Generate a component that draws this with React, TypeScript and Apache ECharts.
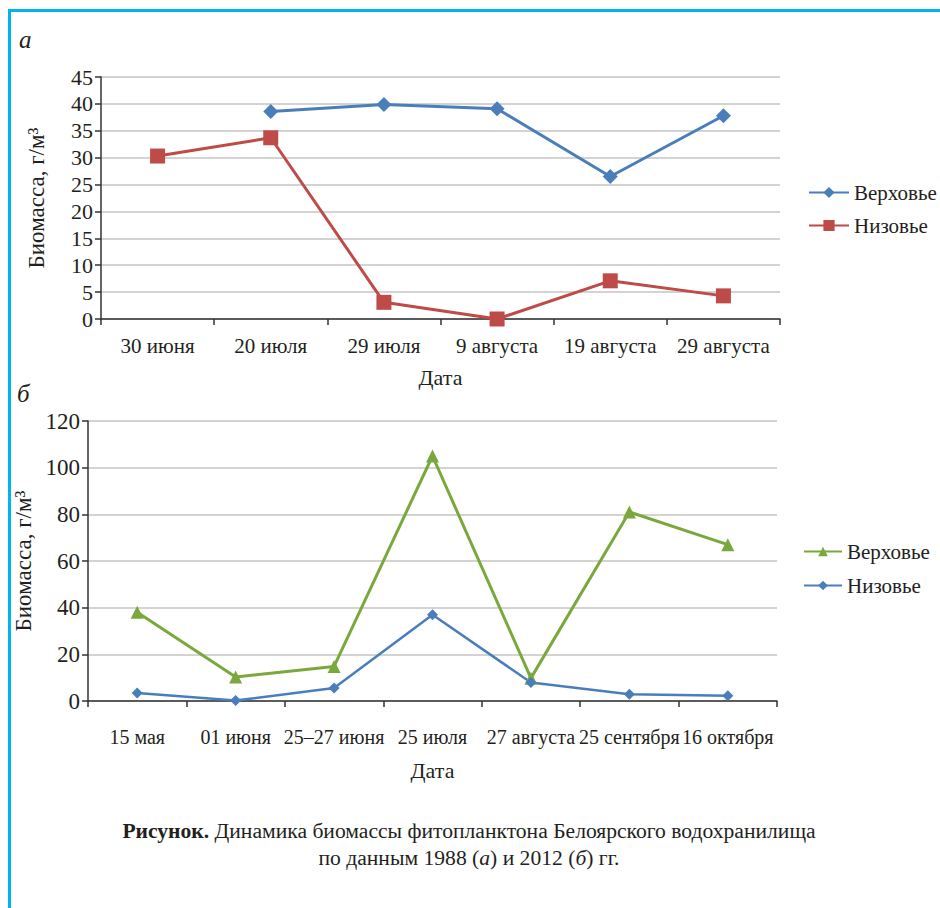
import React, { useEffect, useRef } from "react";
import * as echarts from "echarts";

const catsA = ["30 июня", "20 июля", "29 июля", "9 августа", "19 августа", "29 августа"];
const upperA = [null, 38.6, 39.9, 39.1, 26.5, 37.8];
const lowerA = [30.3, 33.7, 3.1, 0, 7.1, 4.3];

const catsB = ["15 мая", "01 июня", "25–27 июня", "25 июля", "27 августа", "25 сентября", "16 октября"];
const upperB = [38, 10.3, 14.8, 105, 9.8, 81, 67];
const lowerB = [3.4, 0.2, 5.6, 37, 7.9, 2.9, 2.2];

const FONT = "Liberation Serif";
const TXT = "#231f20";
const BLUE = "#4a7ebb";
const RED = "#be4b48";
const GREEN = "#7aa83c";

export default function App() {
  const ref = useRef<HTMLDivElement>(null);
  useEffect(() => {
    const chart = echarts.init(ref.current!, null, { renderer: "svg" });
    const axisCommon = {
      axisLine: { show: true, lineStyle: { color: "#333", width: 1.5 } },
      axisTick: { show: true, length: 6, lineStyle: { color: "#333", width: 1.5 } },
      splitLine: { show: false },
    };
    const yCommon = {
      ...axisCommon,
      type: "value",
      nameLocation: "middle",
      nameRotate: 90,
      nameTextStyle: { fontFamily: FONT, fontSize: 23, color: TXT },
      axisLabel: { fontFamily: FONT, fontSize: 22, color: TXT, margin: 8 },
      splitLine: { show: true, lineStyle: { color: "#c4c4c4", width: 1.5 } },
    };
    chart.setOption({
      animation: false,
      backgroundColor: "#fff",
      textStyle: { fontFamily: FONT },
      grid: [
        { left: 101, right: 160, top: 77, height: 242 },
        { left: 88, right: 163, top: 421, height: 280 },
      ],
      xAxis: [
        {
          ...axisCommon,
          type: "category",
          gridIndex: 0,
          data: catsA,
          name: "Дата",
          nameLocation: "middle",
          nameGap: 47,
          nameTextStyle: { fontFamily: FONT, fontSize: 22, color: TXT },
          axisLabel: { fontFamily: FONT, fontSize: 21, color: TXT, margin: 16, interval: 0 },
        },
        {
          ...axisCommon,
          type: "category",
          gridIndex: 1,
          data: catsB,
          name: "Дата",
          nameLocation: "middle",
          nameGap: 58,
          nameTextStyle: { fontFamily: FONT, fontSize: 22, color: TXT },
          axisLabel: { fontFamily: FONT, fontSize: 20, color: TXT, margin: 26, interval: 0 },
        },
      ],
      yAxis: [
        { ...yCommon, gridIndex: 0, min: 0, max: 45, interval: 5, name: "Биомасса, г/м³", nameGap: 53 },
        {
          ...yCommon,
          gridIndex: 1,
          min: 0,
          max: 120,
          interval: 20,
          name: "Биомасса, г/м³",
          nameGap: 40,
          axisLabel: { fontFamily: FONT, fontSize: 23, color: TXT, margin: 8 },
        },
      ],
      legend: [
        {
          data: ["Верховье", "Низовье"].map((n) => ({ name: n })),
          orient: "vertical",
          left: 803,
          top: 177,
          itemWidth: 40,
          itemHeight: 14,
          itemGap: 12,
          textStyle: { fontFamily: FONT, fontSize: 21, color: TXT },
        },
        {
          data: ["Верховье ", "Низовье "].map((n) => ({ name: n })),
          orient: "vertical",
          left: 798,
          top: 536,
          itemWidth: 38,
          itemHeight: 12,
          itemGap: 13,
          textStyle: { fontFamily: FONT, fontSize: 21, color: TXT },
        },
      ],
      series: [
        {
          name: "Верховье",
          type: "line",
          xAxisIndex: 0,
          yAxisIndex: 0,
          data: upperA,
          symbol: "diamond",
          symbolSize: 15,
          lineStyle: { color: BLUE, width: 3 },
          itemStyle: { color: BLUE },
        },
        {
          name: "Низовье",
          type: "line",
          xAxisIndex: 0,
          yAxisIndex: 0,
          data: lowerA,
          symbol: "rect",
          symbolSize: 15,
          lineStyle: { color: RED, width: 3 },
          itemStyle: { color: RED },
        },
        {
          name: "Верховье ",
          type: "line",
          xAxisIndex: 1,
          yAxisIndex: 1,
          data: upperB,
          symbol: "triangle",
          symbolSize: 13,
          lineStyle: { color: GREEN, width: 3 },
          itemStyle: { color: GREEN },
        },
        {
          name: "Низовье ",
          type: "line",
          xAxisIndex: 1,
          yAxisIndex: 1,
          data: lowerB,
          symbol: "diamond",
          symbolSize: 11,
          lineStyle: { color: BLUE, width: 2.5 },
          itemStyle: { color: BLUE },
        },
      ],
      graphic: [
        { type: "rect", shape: { x: 8, y: 9, width: 932, height: 3 }, style: { fill: "#00b4ef" } },
        { type: "rect", shape: { x: 8, y: 9, width: 3, height: 899 }, style: { fill: "#00b4ef" } },
        {
          type: "text",
          x: 19,
          y: 27,
          style: { text: "а", fontFamily: FONT, fontStyle: "italic", fontSize: 25, fill: TXT },
        },
        {
          type: "text",
          x: 17,
          y: 381,
          style: { text: "б", fontFamily: FONT, fontStyle: "italic", fontSize: 25, fill: TXT },
        },
        {
          type: "text",
          x: 469,
          y: 844,
          style: {
            text: "{b|Рисунок.} Динамика биомассы фитопланктона Белоярского водохранилища\nпо данным 1988 ({i|а}) и 2012 ({i|б}) гг.",
            align: "center",
            verticalAlign: "middle",
            fontFamily: FONT,
            fontSize: 21.6,
            lineHeight: 27,
            fill: TXT,
            rich: {
              b: { fontFamily: FONT, fontSize: 21.6, fontWeight: "bold", fill: TXT, lineHeight: 27 },
              i: { fontFamily: FONT, fontSize: 21.6, fontStyle: "italic", fill: TXT, lineHeight: 27 },
            },
          },
        },
      ],
    });
    return () => chart.dispose();
  }, []);
  return <div ref={ref} style={{ position: "absolute", left: 0, top: 0, width: 940, height: 908 }} />;
}
